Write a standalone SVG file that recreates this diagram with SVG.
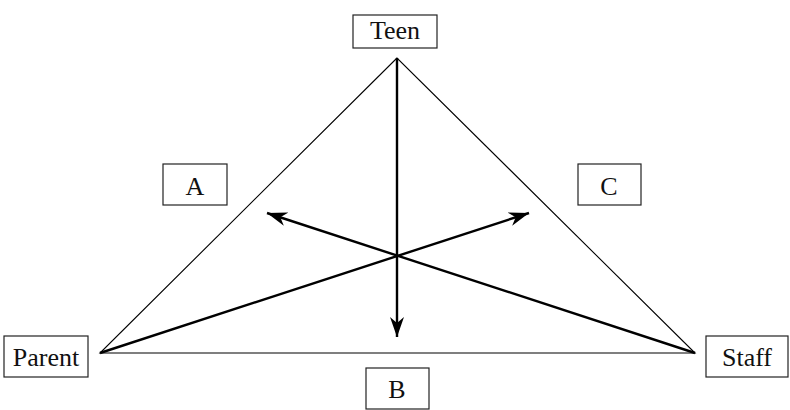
<svg xmlns="http://www.w3.org/2000/svg" width="790" height="410" viewBox="0 0 790 410">
<style>
.box{fill:#fff;stroke:#222;stroke-width:1.2}
.lbl{font-family:"Liberation Serif",serif;font-size:26px;fill:#111;text-anchor:middle}
.tri{stroke:#000;stroke-width:1.1;fill:none}
.arr{stroke:#000;stroke-width:2.4;fill:none;marker-end:url(#ah)}
</style>
<defs>
<marker id="ah" markerWidth="22" markerHeight="16" viewBox="0 0 22 16" refX="20" refY="8" orient="auto" markerUnits="userSpaceOnUse">
<path d="M0,1 L20,8 L0,15 L6,8 Z" fill="#000"/>
</marker>
</defs>
<g id="connectors">
<path class="tri" d="M397,58 L100,353 L695,353 Z"/>
<line class="arr" x1="397" y1="58" x2="397" y2="337"/>
<line class="arr" x1="100" y1="353" x2="529" y2="213"/>
<line class="arr" x1="695" y1="353" x2="267" y2="213"/>
</g>
<g id="teen"><rect class="box" x="353" y="15" width="84" height="33"/><text class="lbl" x="395" y="39">Teen</text></g>
<g id="parent"><rect class="box" x="4" y="336" width="84" height="41"/><text class="lbl" x="46" y="366">Parent</text></g>
<g id="staff"><rect class="box" x="706" y="336" width="82" height="41"/><text class="lbl" x="747" y="366">Staff</text></g>
<g id="a"><rect class="box" x="163" y="164" width="64" height="41"/><text class="lbl" x="195" y="195">A</text></g>
<g id="c"><rect class="box" x="578" y="164" width="63" height="41"/><text class="lbl" x="609" y="195">C</text></g>
<g id="b"><rect class="box" x="366" y="368" width="63" height="41"/><text class="lbl" x="397" y="398">B</text></g>
</svg>
